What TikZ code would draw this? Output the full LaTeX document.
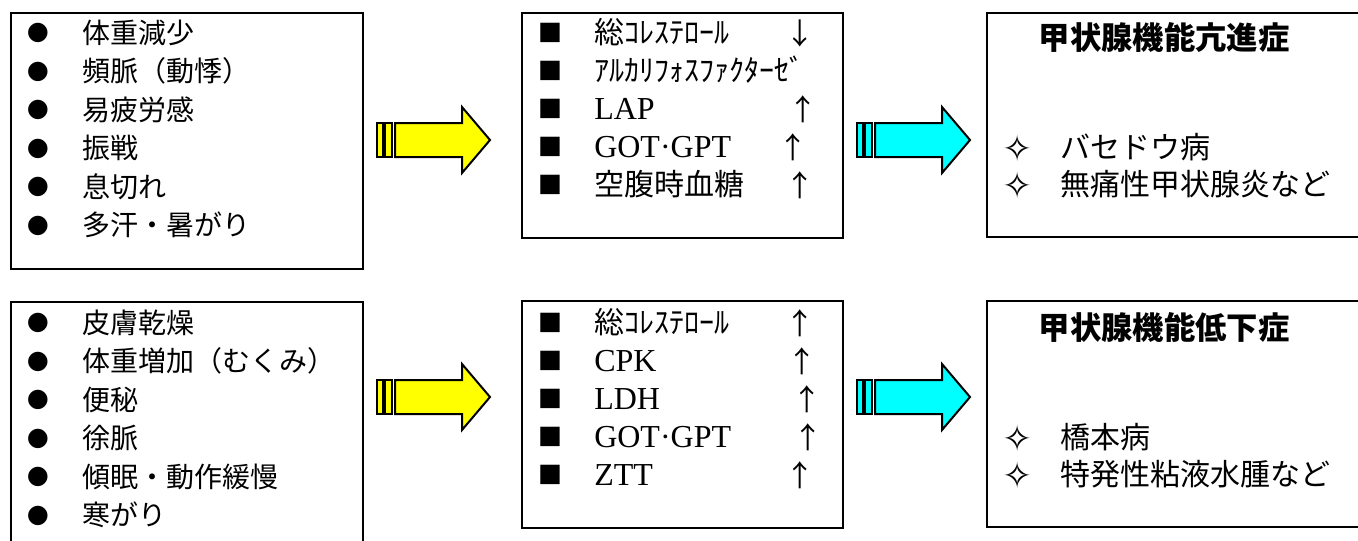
\documentclass[tikz,border=0pt]{standalone}
\usepackage{fontspec}
\setmainfont{Liberation Serif}
\newfontfamily\jp{Noto Sans CJK JP}
\newfontfamily\dingfont{DejaVu Sans}
\usepackage{tikz}

\definecolor{aqua}{RGB}{0,255,255}
\definecolor{lemon}{RGB}{255,255,0}
\newcommand\latn[1]{{\fontsize{24}{28}\selectfont #1}}

\tikzstyle{panel}=[draw,line width=1.5pt,anchor=north west,inner sep=0pt]
\tikzstyle{item}=[anchor=west,inner sep=0pt,text height=18pt,text depth=3pt]
\tikzstyle{bul}=[inner sep=0pt,font=\dingfont\fontsize{19}{19}\selectfont]
\tikzstyle{star}=[inner sep=0pt,font=\dingfont\fontsize{27}{27}\selectfont]
\tikzstyle{updown}=[inner sep=0pt,font=\jp\fontsize{22}{24}\selectfont]
\tikzstyle{title}=[inner sep=0pt,font=\jp\bfseries\fontsize{23.5}{26}\selectfont]
\tikzset{fatarrow/.pic={
    \path[pic actions] (0,-17) rectangle (6,17);
    \path[pic actions] (8,-17) rectangle (15,17);
    \path[pic actions] (18,-17) -- (85,-17) -- (85,-33) -- (113,0) -- (85,33) -- (85,17) -- (18,17) -- cycle;
}}

\begin{document}
\begin{tikzpicture}[x=0.75pt,y=-0.75pt]
    \useasboundingbox (0,0) rectangle (1358,540);
    % boites
    \foreach \pos/\w/\h/\name in {{(10,12)/264/192/symA}, {(521,12)/240.75/168.75/labA}, {(986,12)/288/168/dxA},
                                 {(10,301)/264/194.25/symB}, {(521,300)/240.75/170.25/labB}, {(986,300)/288/169.5/dxB}}
        \node[panel,minimum width=\w pt,minimum height=\h pt] (\name) at \pos {};
    % symptomes
    \foreach \txt [count=\i] in {体重減少, 頻脈（動悸）, 易疲労感, 振戦, 息切れ, 多汗・暑がり} {
        \node[bul] (bA\i) at (38,{33+38.5*(\i-1)}) {●};
        \node[item,font=\jp\fontsize{21}{24}\selectfont] (sA\i) at (82,{33+38.5*(\i-1)}) {\txt};
    }
    \foreach \txt [count=\i] in {皮膚乾燥, 体重増加（むくみ）, 便秘, 徐脈, 傾眠・動作緩慢, 寒がり} {
        \node[bul] (bB\i) at (38,{323+38.5*(\i-1)}) {●};
        \node[item,font=\jp\fontsize{21}{24}\selectfont] (sB\i) at (82,{323+38.5*(\i-1)}) {\txt};
    }
    % 検査値
    \foreach \txt [count=\i] in {{\jp 総ｺﾚｽﾃﾛｰﾙ}, {\jp ｱﾙｶﾘﾌｫｽﾌｧｸﾀｰｾﾞ}, \latn{LAP}, \latn{GOT·GPT}, {\jp 空腹時血糖}} {
        \node[bul] (qA\i) at (550,{33+38*(\i-1)}) {■};
        \node[item,font=\fontsize{22.5}{26}\selectfont] (lA\i) at (594,{33+38*(\i-1)}) {\txt};
    }
    \foreach \i/\ax/\ar in {1/800/↓, 3/803/↑, 4/793/↑, 5/800/↑}
        \node[updown] (uA\i) at (\ax,{33+38*(\i-1)}) {\ar};
    \foreach \txt [count=\i] in {{\jp 総ｺﾚｽﾃﾛｰﾙ}, \latn{CPK}, \latn{LDH}, \latn{GOT·GPT}, \latn{ZTT}} {
        \node[bul] (qB\i) at (550,{323+38*(\i-1)}) {■};
        \node[item,font=\fontsize{22.5}{26}\selectfont] (lB\i) at (594,{323+38*(\i-1)}) {\txt};
    }
    \foreach \i/\ax in {1/800, 2/802, 3/807, 4/808, 5/800}
        \node[updown] (uB\i) at (\ax,{323+38*(\i-1)}) {↑};
    % 診断
    \node[title] (tA) at (1164,38) {甲状腺機能亢進症};
    \node[title] (tB) at (1164,328) {甲状腺機能低下症};
    \foreach \txt/\y [count=\i] in {バセドウ病/148, 無痛性甲状腺炎など/185} {
        \node[star] (dA\i) at (1018,\y) {✧};
        \node[item,font=\jp\fontsize{22.5}{26}\selectfont] (xA\i) at (1060,\y) {\txt};
    }
    \foreach \txt/\y [count=\i] in {橋本病/438, 特発性粘液水腫など/475} {
        \node[star] (dB\i) at (1018,\y) {✧};
        \node[item,font=\jp\fontsize{22.5}{26}\selectfont] (xB\i) at (1060,\y) {\txt};
    }
    % fleches
    \foreach \pos/\col/\name in {{(377,140)/lemon/fA1}, {(857,140)/aqua/fA2}, {(377,397)/lemon/fB1}, {(857,397)/aqua/fB2}}
        \pic[draw,fill=\col,line width=1.5pt] (\name) at \pos {fatarrow};
\end{tikzpicture}
\end{document}
